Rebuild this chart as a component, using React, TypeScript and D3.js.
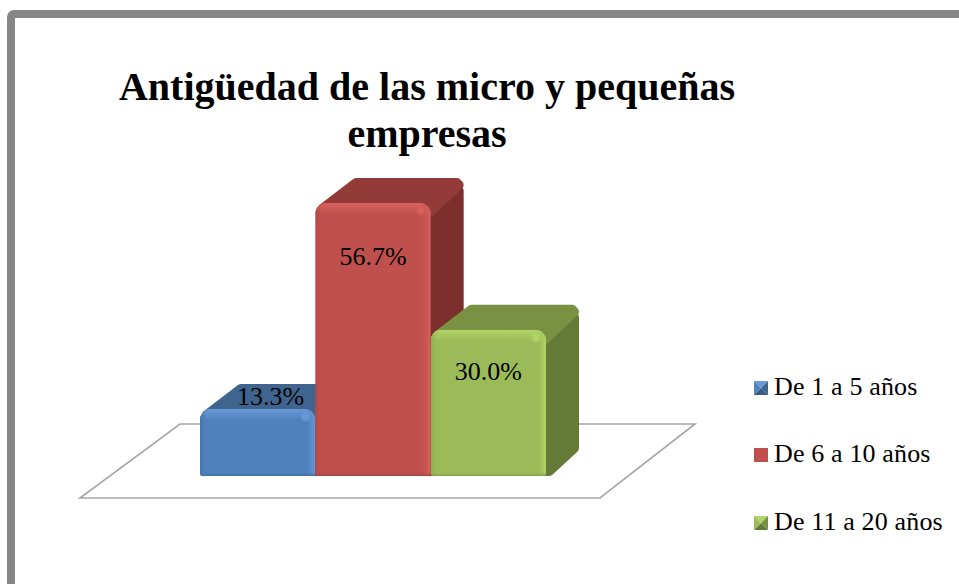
import React from "react";
import * as d3 from "d3";

const categories = ["De 1 a 5 años", "De 6 a 10 años", "De 11 a 20 años"];
const values = [13.3, 56.7, 30.0];
const valueLabels = ["13.3%", "56.7%", "30.0%"];
const titleLines = ["Antigüedad de las micro y pequeñas", "empresas"];
const frontColors = ["#4f81bd", "#c0504d", "#9bbb59"];
const lightColors = ["#6a9ad6", "#d9625f", "#b2d568"];
const topColors = ["#3f658f", "#933b39", "#7a9143"];
const sideColors = ["#365a85", "#7c2f2d", "#657a37"];
const labelOffsets = [-13, 53, 41];

const W = 959, H = 584;
const font = "'Liberation Serif', 'Times New Roman', serif";
const x = d3.scaleBand<number>().domain([0, 1, 2]).range([200, 546]).paddingInner(0).paddingOuter(0);
const y = d3.scaleLinear().domain([-0.8, 56.7]).range([476, 203]);
const depthX = 33, depthY = 25;
const floorPts: [number, number][] = [[180, 424], [695, 424], [600, 498], [80, 498]];
const floorPath = d3.line()(floorPts) + "Z";

function Bar({ i }: { i: number }) {
  const x0 = x(i)!, x1 = x0 + x.bandwidth(), y0 = y(values[i]), yb = y(-0.8);
  const r = 11, e = 5;
  const backR = x1 + depthX, backT = y0 - depthY;
  const sideFace = d3.line()([
    [x1 - 6, y0 + 8], [backR - 16, backT + 8], [backR - e, backT + e + 8],
    [backR - e, yb - depthY - 3], [x1 + 3, yb - e], [x1 - 6, yb - e],
  ]) + "Z";
  const topFace = d3.line()([
    [x0 + 7, y0 + 6], [x0 + depthX + 8, backT + e], [backR - e - 2, backT + e],
    [backR - e, backT + e + 2], [x1 - 2, y0 + 10],
  ]) + "Z";
  return (
    <g>
      <path d={sideFace} fill={sideColors[i]} stroke={sideColors[i]} strokeWidth={2 * e} strokeLinejoin="round" />
      <path d={topFace} fill={topColors[i]} stroke={topColors[i]} strokeWidth={2 * e} strokeLinejoin="round" />
      <clipPath id={`front${i}`}>
        <rect x={x0} y={y0} width={x.bandwidth()} height={yb - y0} rx={r} ry={r} />
        <rect x={x0} y={y0 + r} width={x.bandwidth()} height={yb - y0 - r} rx={3} ry={3} />
      </clipPath>
      <g clipPath={`url(#front${i})`}>
        <rect x={x0} y={y0} width={x.bandwidth()} height={yb - y0} fill={frontColors[i]} />
        <rect x={x0} y={y0} width={x.bandwidth()} height={11} fill={`url(#topb${i})`} />
        <rect x={x0} y={y0} width={7} height={yb - y0} fill={`url(#leftb${i})`} />
        <rect x={x1 - 11} y={y0} width={11} height={yb - y0} fill={`url(#rightb${i})`} />
        <rect x={x0} y={yb - 4} width={x.bandwidth()} height={4} fill={`url(#botb${i})`} />
        <circle cx={x1 - 10} cy={y0 + 8} r={4} fill={lightColors[i]} filter="url(#soft)" />
      </g>
      <text x={x0 + x.bandwidth() / 2 + (i === 0 ? 13 : 0)} y={y0 + labelOffsets[i] + 9} textAnchor="middle"
        fontFamily={font} fontSize={26} fill="#000">{valueLabels[i]}</text>
    </g>
  );
}

function Swatch({ i, cy }: { i: number; cy: number }) {
  const s = 14, x0 = 754, y0 = cy - 7, xm = x0 + s / 2, ym = y0 + s / 2;
  if (i === 1) return <rect x={x0} y={y0} width={s} height={s} fill={frontColors[1]} />;
  const tri = (pts: [number, number][], f: string) => <path d={d3.line()(pts) + "Z"} fill={f} />;
  return (
    <g>
      {tri([[x0, y0], [x0 + s, y0], [xm, ym]], lightColors[i])}
      {tri([[x0, y0 + s], [x0 + s, y0 + s], [xm, ym]], sideColors[i])}
      {tri([[x0, y0], [x0, y0 + s], [xm, ym]], frontColors[i])}
      {tri([[x0 + s, y0], [x0 + s, y0 + s], [xm, ym]], topColors[i])}
    </g>
  );
}

export default function App() {
  const legendY = [388, 455, 523];
  return (
    <svg width={W} height={H} viewBox={`0 0 ${W} ${H}`} style={{ position: "absolute", left: 0, top: 0, background: "#fff" }}>
      <defs>
        <filter id="soft"><feGaussianBlur stdDeviation="1.2" /></filter>
        {frontColors.map((c, i) => (
          <React.Fragment key={i}>
            <linearGradient id={`topb${i}`} x1="0" y1="0" x2="0" y2="1">
              <stop offset="0" stopColor={lightColors[i]} />
              <stop offset="1" stopColor={c} />
            </linearGradient>
            <linearGradient id={`leftb${i}`} x1="0" y1="0" x2="1" y2="0">
              <stop offset="0" stopColor={d3.color(c)!.darker(0.3).toString()} />
              <stop offset="1" stopColor={c} stopOpacity={0} />
            </linearGradient>
            <linearGradient id={`rightb${i}`} x1="0" y1="0" x2="1" y2="0">
              <stop offset="0" stopColor={c} stopOpacity={0} />
              <stop offset="1" stopColor={lightColors[i]} />
            </linearGradient>
            <linearGradient id={`botb${i}`} x1="0" y1="0" x2="0" y2="1">
              <stop offset="0" stopColor={c} stopOpacity={0} />
              <stop offset="1" stopColor={d3.color(c)!.darker(0.5).toString()} />
            </linearGradient>
          </React.Fragment>
        ))}
      </defs>
      <rect x={11} y={14} width={W + 20} height={H + 20} rx={3} fill="#fff" stroke="#868686" strokeWidth={8} />
      <path d={floorPath} fill="#fff" stroke="#a6a6a6" strokeWidth={1.6} />
      {titleLines.map((t, i) => (
        <text key={t} x={427} y={100 + i * 47} textAnchor="middle" fontFamily={font} fontWeight="bold" fontSize={40} fill="#000">{t}</text>
      ))}
      {[0, 1, 2].map((i) => <Bar key={i} i={i} />)}
      {categories.map((c, i) => (
        <g key={c}>
          <Swatch i={i} cy={legendY[i]} />
          <text x={774} y={legendY[i] + 7} fontFamily={font} fontSize={26} letterSpacing={0.15} fill="#000">{c}</text>
        </g>
      ))}
    </svg>
  );
}
